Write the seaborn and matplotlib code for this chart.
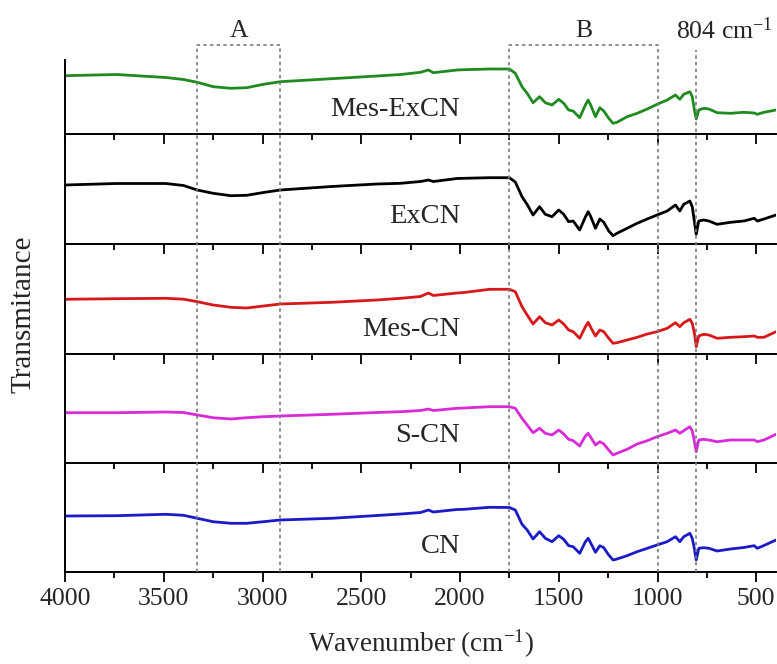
import matplotlib
matplotlib.use("Agg")
import matplotlib.pyplot as plt
from matplotlib.ticker import MultipleLocator
import seaborn as sns
import pandas as pd

# Wavenumber grid (cm^-1) shared by all spectra
wavenumber = [4000, 3740, 3490, 3400, 3330, 3250, 3160, 3080, 2995, 2910,
              2650, 2420, 2300, 2200, 2160, 2135, 2015, 1980, 1850, 1750,
              1720, 1686, 1660, 1630, 1597, 1568, 1534, 1500, 1475, 1450,
              1427, 1394, 1365, 1351, 1340, 1314, 1292, 1272, 1247, 1225,
              1205, 1154, 1103, 1052, 1002, 951, 909, 887, 867, 836,
              824, 813, 804, 791, 766, 740, 698, 630, 563, 510,
              495, 461, 400]

# Transmittance (arbitrary units, offset within each panel)
mes_excn = [58.3, 59.5, 56.5, 54.5, 51.7, 47.3, 45.7, 46.3, 49.7, 52.3,
            55.3, 58.0, 59.5, 61.7, 64.0, 61.3, 64.0, 64.3, 65.0, 65.0,
            60.7, 47.3, 40.7, 31.3, 37.3, 31.3, 29.0, 34.7, 30.7, 24.0,
            23.0, 16.3, 29.0, 34.0, 29.7, 17.3, 26.3, 23.0, 15.7, 10.7,
            11.7, 17.3, 20.7, 25.0, 29.7, 34.0, 39.0, 34.7, 39.7, 42.3,
            37.3, 24.0, 15.0, 24.0, 25.7, 25.0, 21.3, 20.7, 21.7, 21.0,
            19.7, 21.7, 24.0]
excn = [59.0, 60.5, 60.5, 58.5, 54.0, 50.7, 48.3, 48.7, 51.5, 54.0,
        57.5, 60.0, 60.7, 62.5, 64.0, 62.5, 65.5, 65.7, 66.3, 66.3,
        62.0, 47.3, 39.5, 29.0, 37.3, 29.7, 27.3, 34.0, 29.7, 22.3,
        23.0, 14.0, 27.0, 32.3, 28.3, 15.7, 25.0, 21.7, 13.0, 8.3,
        10.7, 15.7, 20.7, 25.0, 29.0, 33.0, 39.0, 33.0, 39.7, 43.0,
        37.3, 22.3, 9.7, 23.0, 24.0, 23.0, 19.7, 21.7, 23.0, 25.7,
        23.0, 25.0, 29.0]
mes_cn = [54.7, 55.3, 55.7, 54.8, 52.3, 49.0, 46.7, 46.0, 48.0, 50.0,
          51.7, 54.0, 55.7, 57.5, 61.0, 58.5, 61.0, 61.5, 64.7, 64.7,
          62.3, 47.3, 39.0, 30.0, 37.3, 31.3, 29.0, 34.0, 30.0, 24.0,
          22.3, 15.7, 27.3, 31.7, 27.3, 18.0, 24.0, 22.3, 15.7, 10.7,
          11.3, 14.0, 16.7, 20.0, 22.3, 25.7, 31.3, 27.3, 31.3, 34.7,
          30.7, 20.7, 7.3, 18.0, 19.7, 19.0, 15.7, 16.7, 17.3, 18.0,
          16.7, 16.7, 22.3]
s_cn = [50.3, 50.3, 51.0, 50.5, 48.0, 45.3, 44.0, 45.3, 46.3, 47.0,
        48.7, 50.5, 51.3, 52.5, 54.0, 52.5, 54.7, 55.0, 56.3, 56.3,
        54.7, 44.7, 38.0, 30.3, 34.7, 29.7, 28.0, 33.0, 29.0, 23.7,
        22.3, 17.0, 27.0, 29.7, 26.3, 18.0, 21.3, 19.0, 13.0, 8.0,
        9.7, 13.7, 19.0, 22.3, 26.3, 29.7, 33.0, 29.7, 32.3, 36.3,
        32.3, 21.3, 11.3, 23.0, 23.7, 23.0, 21.3, 23.0, 23.0, 23.0,
        21.3, 23.0, 28.7]
cn = [56.0, 56.3, 57.7, 56.7, 53.7, 50.3, 48.7, 48.7, 50.3, 52.0,
      53.7, 56.5, 58.0, 59.5, 62.0, 60.0, 62.5, 62.7, 64.7, 64.5,
      62.0, 47.7, 42.0, 33.0, 40.3, 33.7, 30.3, 36.3, 32.7, 26.3,
      25.3, 18.7, 30.3, 33.7, 29.7, 19.7, 26.3, 24.3, 17.0, 12.0,
      13.0, 16.3, 20.3, 23.7, 27.0, 30.3, 35.3, 30.3, 35.3, 38.7,
      33.7, 23.0, 12.0, 23.7, 24.3, 23.7, 21.0, 23.0, 24.5, 26.3,
      23.7, 26.5, 32.0]

samples = ["Mes-ExCN", "ExCN", "Mes-CN", "S-CN", "CN"]
series = [mes_excn, excn, mes_cn, s_cn, cn]
colors = ["#1f8a1f", "#000000", "#d81818", "#d82ad8", "#1a1ac8"]
label_height = [24.0, 27.3, 24.0, 28.0, 25.3]

xticks = [4000, 3500, 3000, 2500, 2000, 1500, 1000, 500]
region_a = (3330, 2910)
region_b = (1750, 1000)
peak_804 = 804

sns.set_style("ticks")
plt.rcParams["font.family"] = ["Liberation Serif", "DejaVu Serif"]
plt.rcParams["mathtext.fontset"] = "custom"
plt.rcParams["mathtext.rm"] = "Liberation Serif"
plt.rcParams["mathtext.it"] = "Liberation Serif:italic"

W, H = 777, 664
fig = plt.figure(figsize=(W / 100, H / 100), dpi=100)
left, right = 65, 776
edges = [60, 134, 244, 354, 463, 572]

frames = []
for name, vals in zip(samples, series):
    frames.append(pd.DataFrame({"wavenumber": wavenumber, "T": vals, "sample": name}))
df = pd.concat(frames, ignore_index=True)

axes = []
for i, (name, col) in enumerate(zip(samples, colors)):
    top, bot = edges[i], edges[i + 1]
    ax = fig.add_axes([left / W, 1 - bot / H, (right - left) / W, (bot - top) / H])
    sub = df[df["sample"] == name]
    sns.lineplot(data=sub, x="wavenumber", y="T", color=col, linewidth=2.0, ax=ax)
    ax.set_xlim(4000, 400)
    ax.set_ylim(0, bot - top)
    ax.set_yticks([])
    ax.set_ylabel("")
    ax.set_xlabel("")
    ax.set_xticks(xticks)
    ax.xaxis.set_minor_locator(MultipleLocator(250))
    for s in ["top", "right"]:
        ax.spines[s].set_visible(False)
    for s in ["left", "bottom"]:
        ax.spines[s].set_linewidth(1.4)
        ax.spines[s].set_color("black")
    ax.tick_params(axis="x", which="major", direction="out", length=7.5, width=1.3,
                   labelsize=18.5, pad=4, color="black")
    ax.tick_params(axis="x", which="minor", direction="out", length=4.5, width=1.3,
                   color="black")
    if i < len(samples) - 1:
        ax.tick_params(axis="x", labelbottom=False)
    ax.text(2000, label_height[i], name, ha="right", va="center", fontsize=20.5)
    ax.patch.set_alpha(0)
    axes.append(ax)

axes[-1].set_xlabel("Wavenumber (cm$^{\\mathregular{-1}}$)", fontsize=19.5, labelpad=13)

fig.text(24 / W, 1 - 314 / H, "Transmitance", rotation=90, ha="center", va="center",
         fontsize=21)

# Overlay for the marked regions spanning all panels
box_top, box_bot = 45, 572
ov = fig.add_axes([left / W, 1 - box_bot / H, (right - left) / W, (box_bot - box_top) / H])
ov.set_xlim(4000, 400)
ov.set_ylim(0, 1)
ov.axis("off")
dash = dict(color="#7a7a7a", linewidth=1.2, linestyle=(0, (2, 2)), clip_on=False)
for lo, hi in [region_a, region_b]:
    ov.plot([lo, lo, hi, hi], [0, 1, 1, 0], **dash)
ov.plot([peak_804, peak_804], [0, (box_bot - 50) / (box_bot - box_top)], **dash)
ty = (box_bot - 31) / (box_bot - box_top)
ov.text(sum(region_a) / 2, ty, "A", ha="center", va="center", fontsize=18.5, clip_on=False)
ov.text(sum(region_b) / 2, ty, "B", ha="center", va="center", fontsize=18.5, clip_on=False)
ov.text(660, ty, "804 cm$^{\\mathregular{-1}}$", ha="center", va="center", fontsize=18.5,
        clip_on=False)

fig.savefig("out.png", dpi=100)
